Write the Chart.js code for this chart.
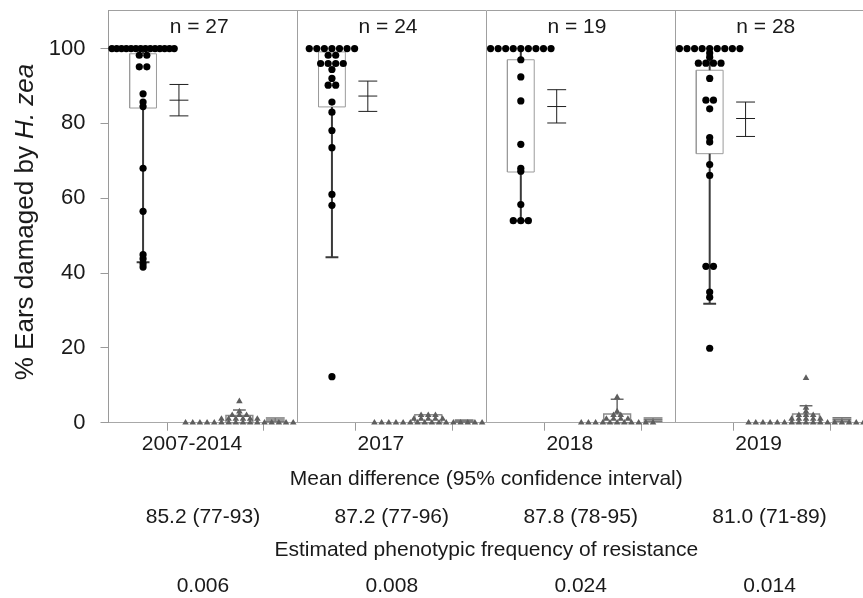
<!DOCTYPE html>
<html>
<head>
<meta charset="utf-8">
<script src="https://cdn.jsdelivr.net/npm/chart.js@4.4.1/dist/chart.umd.min.js"></script>
<style>
  html, body { margin: 0; padding: 0; background: #fff; overflow: hidden; }
  #wrap { width: 868px; height: 598px; }
</style>
</head>
<body>
<div id="wrap"><canvas id="chart" width="868" height="598"></canvas></div>
<script>
const FONT = "'Liberation Sans', Arial, Helvetica, sans-serif";

const years = ["2007-2014", "2017", "2018", "2019"];
const nFields = [27, 24, 19, 28];
const meanDiff = ["85.2 (77-93)", "87.2 (77-96)", "87.8 (78-95)", "81.0 (71-89)"];
const resistFreq = ["0.006", "0.008", "0.024", "0.014"];
const yTicks = [0, 20, 40, 60, 80, 100];

// % ears damaged per field, non-Bt sweet corn (black circles)
const nonBt2007 = [100, 100, 100, 100, 100, 100, 100, 100, 100, 100, 100, 100, 100, 100,
  98.2, 98.2, 95.1, 95.1, 87.9, 85.7, 84.5, 68, 56.5, 44.9, 43.8, 42.5, 41.6];
const nonBt2017 = [100, 100, 100, 100, 100, 100, 100, 98.2, 98.2, 96, 96, 96, 96, 94.4,
  92, 90.2, 90.2, 85.7, 83, 78.1, 73.5, 61, 58.1, 12.3];
const nonBt2018 = [100, 100, 100, 100, 100, 100, 100, 100, 100, 97, 92.4, 86, 74.4, 68,
  67.2, 58.3, 54, 54, 54];
const nonBt2019 = [100, 100, 100, 100, 100, 100, 100, 100, 100, 98.8, 97.7, 96.1, 96.1, 96.1,
  96.1, 92, 86.2, 86.2, 83.9, 76.2, 75, 69, 66.1, 41.8, 41.8, 34.9, 33.5, 19.9];

// % ears damaged per field, Bt sweet corn (grey triangles)
const bt2007 = [0, 0, 0, 0, 0, 0, 0, 0, 0, 0, 0, 0, 0, 0, 0, 0, 1, 1, 1, 1, 1, 1, 2, 2, 2, 3, 5.7];
const bt2017 = [0, 0, 0, 0, 0, 0, 0, 0, 0, 0, 0, 0, 0, 0, 0, 0, 1, 1, 1, 1, 1, 2, 2, 2];
const bt2018 = [0, 0, 0, 0, 0, 0, 0, 0, 0, 0, 0, 1, 1, 1, 1, 2, 2, 3, 6.8];
const bt2019 = [0, 0, 0, 0, 0, 0, 0, 0, 0, 0, 0, 0, 0, 0, 0, 0, 0, 1, 1, 1, 1, 1, 2, 2, 2, 3, 4, 11.9];

// box plot and mean (95% CI) values
const nonBtQ1 = [84.1, 84.4, 67.0, 71.9];
const nonBtQ3 = [98.6, 99.1, 97.0, 94.2];
const nonBtLow = [42.9, 44.2, 54.0, 31.8];
const nonBtHigh = [100, 100, 100, 100];
const nonBtMean = [86.2, 87.3, 84.5, 81.3];
const nonBtCiLo = [82.0, 83.2, 80.1, 76.5];
const nonBtCiHi = [90.4, 91.3, 89.0, 85.7];

const btQ1 = [0, 0, 0, 0];
const btQ3 = [1.9, 2.1, 2.3, 2.3];
const btHigh = [3.4, 2.1, 6.3, 4.5];
const btMean = [0.75, 0.45, 0.8, 0.85];
const btCiLo = [0.25, 0.15, 0.35, 0.4];
const btCiHi = [1.25, 0.75, 1.25, 1.3];

const nonBtByYear = [nonBt2007, nonBt2017, nonBt2018, nonBt2019];
const btByYear = [bt2007, bt2017, bt2018, bt2019];

// placement inside one year panel, as a fraction of the panel width
const SLOT = { tickA: 0.31, tickB: 0.82, boxA: 0.183, boxB: 0.693, meanA: 0.373, meanB: 0.883 };
const BOX_HALF = 0.071, CAP_HALF = 0.05, WHISK_CAP = 0.034;

// spread tied values side by side (beeswarm)
function swarm(values, cx, gap, maxSpread) {
  const counts = new Map();
  values.forEach(v => counts.set(v, (counts.get(v) || 0) + 1));
  const pts = [];
  counts.forEach((n, v) => {
    const step = n > 1 ? Math.min(gap, maxSpread / (n - 1)) : 0;
    for (let j = 0; j < n; j++) pts.push({ x: cx + (j - (n - 1) / 2) * step, y: v });
  });
  return pts;
}

const gap = x => ({ x: x, y: null });
function rect(arr, cx, lo, hi) {
  arr.push({ x: cx - BOX_HALF, y: lo }, { x: cx + BOX_HALF, y: lo }, { x: cx + BOX_HALF, y: hi },
    { x: cx - BOX_HALF, y: hi }, { x: cx - BOX_HALF, y: lo }, gap(cx));
}
function vline(arr, cx, a, b) { arr.push({ x: cx, y: a }, { x: cx, y: b }, gap(cx)); }
function hline(arr, cx, half, y) { arr.push({ x: cx - half, y: y }, { x: cx + half, y: y }, gap(cx)); }

const dotPts = [], triPts = [];
const boxA = [], whiskA = [], errA = [], boxB = [], whiskB = [], errB = [];

years.forEach((_, i) => {
  const a = i + SLOT.boxA, b = i + SLOT.boxB, ma = i + SLOT.meanA, mb = i + SLOT.meanB;
  dotPts.push(...swarm(nonBtByYear[i], a, 0.04, 0.33));
  triPts.push(...swarm(btByYear[i], b, 0.038, 0.64));

  rect(boxA, a, nonBtQ1[i], nonBtQ3[i]);
  vline(whiskA, a, nonBtLow[i], nonBtQ1[i]);
  vline(whiskA, a, nonBtQ3[i], nonBtHigh[i]);
  hline(whiskA, a, WHISK_CAP, nonBtLow[i]);
  vline(errA, ma, nonBtCiLo[i], nonBtCiHi[i]);
  [nonBtCiLo[i], nonBtMean[i], nonBtCiHi[i]].forEach(v => hline(errA, ma, CAP_HALF, v));

  rect(boxB, b, btQ1[i], btQ3[i]);
  if (btHigh[i] > btQ3[i]) {
    vline(whiskB, b, btQ3[i], btHigh[i]);
    hline(whiskB, b, WHISK_CAP, btHigh[i]);
  }
  vline(errB, mb, btCiLo[i], btCiHi[i]);
  [btCiLo[i], btMean[i], btCiHi[i]].forEach(v => hline(errB, mb, CAP_HALF, v));
});

const xTickVals = years.flatMap((_, i) => [i + SLOT.tickA, i + SLOT.tickB]);
const panelEdges = [0, ...years.map((_, i) => i + 1)];

function lineSet(data, color, width, order) {
  return {
    type: "line", data: data, borderColor: color, borderWidth: width,
    pointRadius: 0, showLine: true, spanGaps: false, fill: false, tension: 0,
    clip: false, order: order
  };
}

// fixed axis sizes so the plot box sits where the original one does
function fixSize(prop, size) {
  return s => {
    s[prop] = size;
    s.paddingTop = 0; s.paddingBottom = 0; s.paddingLeft = 0; s.paddingRight = 0;
  };
}

const textRows = {
  id: "textRows",
  afterDraw(chart) {
    const { ctx, chartArea, scales } = chart;
    const x = scales.x;
    ctx.save();
    ctx.fillStyle = "#1a1a1a";
    ctx.textAlign = "center";
    ctx.textBaseline = "alphabetic";
    ctx.font = "21px " + FONT;
    years.forEach((_, i) => {
      ctx.fillText("n = " + nFields[i], x.getPixelForValue(i + 0.48), 33);
      ctx.fillText(meanDiff[i], x.getPixelForValue(i + 0.5), 523);
      ctx.fillText(resistFreq[i], x.getPixelForValue(i + 0.5), 592);
    });
    const mid = (chartArea.left + chartArea.right) / 2;
    ctx.fillText("Mean difference (95% confidence interval)", mid, 485);
    ctx.fillText("Estimated phenotypic frequency of resistance", mid, 556);

    // y title with italic species name
    const plain = "% Ears damaged by ", ital = "H. zea";
    ctx.font = "26px " + FONT;
    const w1 = ctx.measureText(plain).width;
    ctx.font = "italic 26px " + FONT;
    const w2 = ctx.measureText(ital).width;
    ctx.translate(33, 222);
    ctx.rotate(-Math.PI / 2);
    ctx.textAlign = "left";
    ctx.font = "26px " + FONT;
    ctx.fillText(plain, -(w1 + w2) / 2, 0);
    ctx.font = "italic 26px " + FONT;
    ctx.fillText(ital, -(w1 + w2) / 2 + w1, 0);
    ctx.restore();
  }
};

new Chart(document.getElementById("chart"), {
  type: "scatter",
  data: {
    datasets: [
      { label: "non-Bt", data: dotPts, pointStyle: "circle", pointRadius: 3.6,
        backgroundColor: "#000", borderColor: "#000", borderWidth: 0, clip: false, order: 0 },
      { label: "Bt", data: triPts, pointStyle: "triangle", pointRadius: 3.8,
        backgroundColor: "#5e5e5e", borderColor: "#5e5e5e", borderWidth: 0, clip: false, order: 1 },
      lineSet(whiskA, "#3a3a3a", 2, 2),
      lineSet(boxA, "#9b9b9b", 1, 3),
      lineSet(errA, "#1f1f1f", 1, 2),
      lineSet(boxB, "#8c8c8c", 1.5, 3),
      lineSet(whiskB, "#6a6a6a", 1.5, 2),
      lineSet(errB, "#7a7a7a", 1.5, 2)
    ]
  },
  options: {
    responsive: false,
    animation: false,
    events: [],
    layout: { padding: { left: 0, right: 3, top: 0, bottom: 0 } },
    plugins: { legend: { display: false }, tooltip: { enabled: false } },
    scales: {
      x: {
        type: "linear", position: "bottom", min: 0, max: years.length, offset: false,
        afterBuildTicks: s => { s.ticks = xTickVals.map(v => ({ value: v })); },
        afterFit: fixSize("height", 175.3),
        grid: { drawOnChartArea: false, drawTicks: true, tickLength: 8, color: "#9a9a9a" },
        border: { color: "#a8a8a8" },
        ticks: {
          autoSkip: false, maxRotation: 0, padding: 1, labelOffset: 25,
          color: "#1a1a1a", font: { family: FONT, size: 21 },
          callback: (v, idx) => (idx % 2 === 0 ? years[idx / 2] : "")
        }
      },
      xTop: {
        type: "linear", position: "top", min: 0, max: years.length,
        afterBuildTicks: s => { s.ticks = panelEdges.map(v => ({ value: v })); },
        afterFit: fixSize("height", 10),
        grid: { drawOnChartArea: true, drawTicks: false, color: "#a0a0a0" },
        border: { color: "#a0a0a0" },
        ticks: { display: false }
      },
      y: {
        min: 0, max: 110.3,
        afterBuildTicks: s => { s.ticks = yTicks.map(v => ({ value: v })); },
        afterFit: fixSize("width", 108.5),
        grid: { drawOnChartArea: false, tickLength: 8, color: "#9a9a9a" },
        border: { color: "#9a9a9a" },
        ticks: { padding: 15, color: "#1a1a1a", font: { family: FONT, size: 22 } }
      }
    }
  },
  plugins: [textRows]
});
</script>
</body>
</html>
